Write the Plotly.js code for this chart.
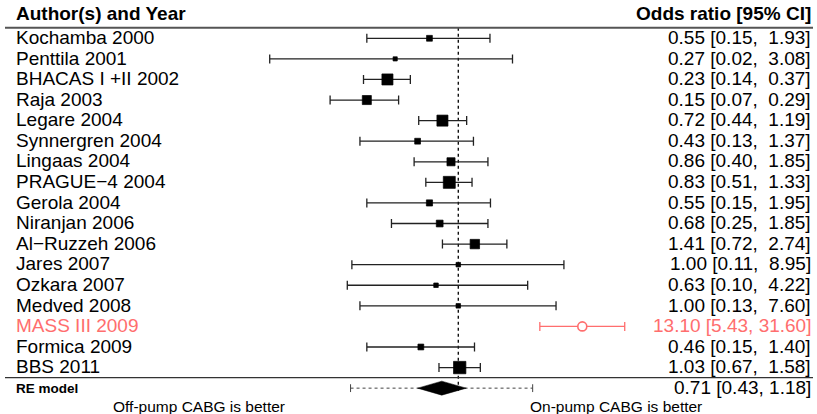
<!DOCTYPE html>
<html><head><meta charset="utf-8">
<script src="https://cdn.plot.ly/plotly-3.0.1.min.js"></script>
<style>html,body{margin:0;padding:0;background:#fff}</style>
</head><body><div id="chart" style="width:817px;height:414px"></div>
<script>
// ---- data ----
const studies = ["Kochamba 2000","Penttila 2001","BHACAS I +II 2002","Raja 2003","Legare 2004",
  "Synnergren 2004","Lingaas 2004","PRAGUE\u22124 2004","Gerola 2004","Niranjan 2006",
  "Al\u2212Ruzzeh 2006","Jares 2007","Ozkara 2007","Medved 2008","MASS III 2009",
  "Formica 2009","BBS 2011"];
const oddsRatio = [0.55,0.27,0.23,0.15,0.72,0.43,0.86,0.83,0.55,0.68,1.41,1.00,0.63,1.00,13.10,0.46,1.03];
const ciLower   = [0.15,0.02,0.14,0.07,0.44,0.13,0.40,0.51,0.15,0.25,0.72,0.11,0.10,0.13,5.43,0.15,0.67];
const ciUpper   = [1.93,3.08,0.37,0.29,1.19,1.37,1.85,1.33,1.95,1.85,2.74,8.95,4.22,7.60,31.60,1.40,1.58];
const weights   = [3.3,1.7,11.9,8.0,11.9,3.3,6.4,14.0,3.7,4.5,8.7,2.0,2.0,2.0,3.7,3.3,14.9]; // % (estimated)
const outlier   = [false,false,false,false,false,false,false,false,false,false,false,false,false,false,true,false,false];
const reModel   = {est:0.71, lo:0.43, hi:1.18};
const predInt   = [0.107, 4.68];
const headerLeft = "Author(s) and Year";
const headerRight = "Odds ratio [95% CI]";
const reLabel = "RE model";
const favLeft = "Off-pump CABG is better";
const favRight = "On-pump CABG is better";

// ---- layout helpers ----
const W = 817;
const FONT = "'Liberation Sans', Arial, Helvetica, sans-serif";
const RED = "#ff6e6e";
const rows = studies.map((_, i) => i + 1);
const reRow = studies.length + 1;

function f2(v){ return v.toFixed(2); }
function pad(s, n){ while (s.length < n) s = "\u00a0" + s; return s; }
function ciText(e, l, h){ return f2(e) + " [" + f2(l) + ", " + pad(f2(h), 5) + "]"; }

const idxN = rows.map((r,i)=>i).filter(i=>!outlier[i]);
const idxO = rows.map((r,i)=>i).filter(i=>outlier[i]);
const pick = (arr, idx) => idx.map(i => arr[i]);

const traces = [];
// reference line at OR = 1
traces.push({x:[1,1], y:[0.485, reRow + 0.2], mode:"lines", line:{color:"#000", width:1.3, dash:"dot"}, hoverinfo:"skip"});
// studies
traces.push({
  x: pick(oddsRatio, idxN), y: pick(rows, idxN), mode:"markers", type:"scatter",
  marker:{symbol:"square", color:"#000", opacity:1, size: pick(weights, idxN).map(w => 3.2*Math.sqrt(w)), line:{color:"#000", width:0.7}},
  error_x:{type:"data", symmetric:false,
    array: idxN.map(i => ciUpper[i]-oddsRatio[i]),
    arrayminus: idxN.map(i => oddsRatio[i]-ciLower[i]),
    color:"#222", thickness:1.3, width:4.5},
  hoverinfo:"skip"
});
traces.push({
  x: pick(oddsRatio, idxO), y: pick(rows, idxO), mode:"markers", type:"scatter",
  marker:{symbol:"circle", color:"#fff", size:9, line:{color:RED, width:1.6}},
  error_x:{type:"data", symmetric:false,
    array: idxO.map(i => ciUpper[i]-oddsRatio[i]),
    arrayminus: idxO.map(i => oddsRatio[i]-ciLower[i]),
    color:RED, thickness:1.3, width:4.5},
  hoverinfo:"skip"
});
// prediction interval
traces.push({x:predInt, y:[reRow, reRow], mode:"lines", line:{color:"#444", width:1, dash:"dot"}, hoverinfo:"skip"});
traces.push({x:[predInt[0],predInt[0],null,predInt[1],predInt[1]], y:[reRow-0.19,reRow+0.19,null,reRow-0.19,reRow+0.19],
  mode:"lines", line:{color:"#444", width:1}, hoverinfo:"skip"});
// diamond
const dh = 0.34;
traces.push({x:[reModel.lo, reModel.est, reModel.hi, reModel.est, reModel.lo],
  y:[reRow, reRow-dh, reRow, reRow+dh, reRow], mode:"lines", fill:"toself",
  fillcolor:"#000", line:{color:"#000", width:0.5}, hoverinfo:"skip"});

const ann = [];
const base = {showarrow:false, xref:"paper", yref:"y", yanchor:"middle"};
ann.push(Object.assign({}, base, {x:14/W, y:-0.2, xanchor:"left", text:"<b>"+headerLeft+"</b>", font:{family:FONT, size:19, color:"#000"}}));
ann.push(Object.assign({}, base, {x:813/W, y:-0.2, xanchor:"right", text:"<b>"+headerRight+"</b>", font:{family:FONT, size:19, color:"#000"}}));
studies.forEach((s, i) => {
  const col = outlier[i] ? RED : "#000";
  ann.push(Object.assign({}, base, {x:14/W, y:rows[i]-0.04, xanchor:"left", text:s, font:{family:FONT, size:19, color:col}}));
  ann.push(Object.assign({}, base, {x:813/W, y:rows[i]-0.04, xanchor:"right", text:ciText(oddsRatio[i], ciLower[i], ciUpper[i]), font:{family:FONT, size:19, color:col}}));
});
ann.push(Object.assign({}, base, {x:14/W, y:reRow, xanchor:"left", text:"<b>"+reLabel+"</b>", font:{family:FONT, size:13.5, color:"#000"}}));
ann.push(Object.assign({}, base, {x:813/W, y:reRow-0.04, xanchor:"right", text:f2(reModel.est)+" ["+f2(reModel.lo)+", "+f2(reModel.hi)+"]", font:{family:FONT, size:19, color:"#000"}}));
ann.push(Object.assign({}, base, {x:111/W, y:18.87, xanchor:"left", text:favLeft, font:{family:FONT, size:15.5, color:"#000"}}));
ann.push(Object.assign({}, base, {x:528/W, y:18.87, xanchor:"left", text:favRight, font:{family:FONT, size:15.5, color:"#000"}}));

const layout = {
  width:817, height:414, margin:{l:0,r:0,t:0,b:0}, showlegend:false,
  paper_bgcolor:"#fff", plot_bgcolor:"#fff",
  xaxis:{type:"log", range:[-4.129, 3.232], visible:false, fixedrange:true},
  yaxis:{range:[19.256, -0.861], visible:false, fixedrange:true},
  shapes:[
    {type:"line", xref:"paper", yref:"y", x0:5/W, x1:813/W, y0:0.485, y1:0.485, line:{color:"#555", width:2}},
    {type:"line", xref:"paper", yref:"y", x0:5/W, x1:813/W, y0:17.49, y1:17.49, line:{color:"#333", width:1.3}}
  ],
  annotations: ann
};
Plotly.newPlot("chart", traces, layout, {displayModeBar:false, staticPlot:true});
</script></body></html>
